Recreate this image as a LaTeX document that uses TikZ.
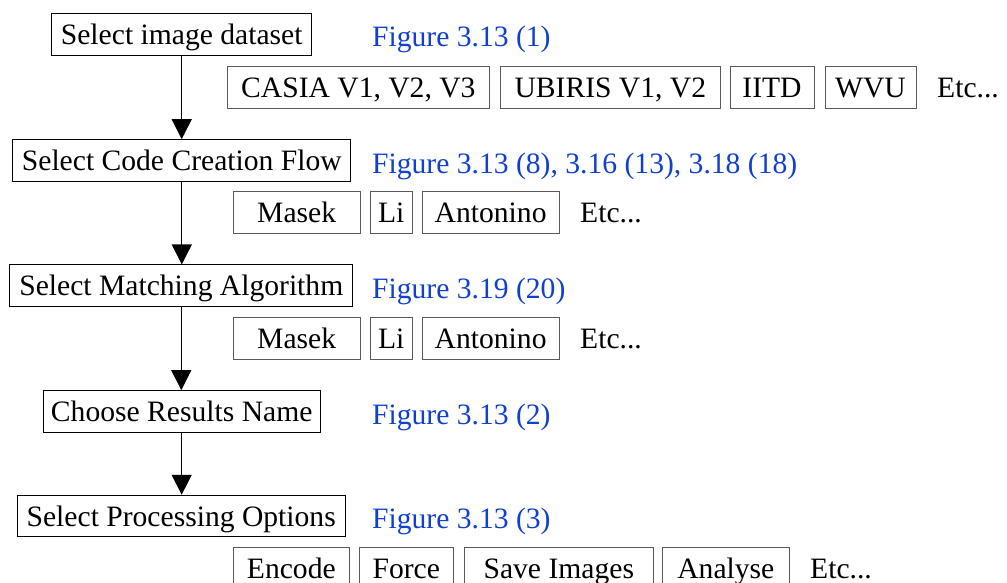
\documentclass[tikz,border=0pt]{standalone}
\usepackage{fontspec}
\setmainfont{Liberation Serif}
\usetikzlibrary{arrows.meta}
\definecolor{figblue}{RGB}{16,64,208}
\begin{document}
\begin{tikzpicture}[x=1pt,y=-1pt,
  every node/.style={font=\fontsize{29.6}{32}\selectfont, inner sep=0pt},
  mainbox/.style={draw=black, line width=1pt, minimum height=41.7pt, text height=24pt, text depth=4pt},
  optbox/.style={draw=black!65, line width=1pt, minimum height=41.7pt, text height=24pt, text depth=4pt},
  figlabel/.style={text=figblue, anchor=base west},
  etclabel/.style={anchor=base west},
  flow/.style={line width=1.2pt, -{Triangle[width=20pt,length=20pt]}}]
\useasboundingbox (0,0) rectangle (1007,583);

% main column
\node[mainbox, minimum width=260pt]   (b1) at (181.7,34.2)  {Select image dataset};
\node[mainbox, minimum width=338.3pt] (b2) at (181.8,160.5) {Select Code Creation Flow};
\node[mainbox, minimum width=342.7pt] (b3) at (181.3,285.8) {Select Matching Algorithm};
\node[mainbox, minimum width=276.7pt] (b4) at (181.7,411.5) {Choose Results Name};
\node[mainbox, minimum width=327.7pt] (b5) at (181.2,516.1) {Select Processing Options};

\draw[flow] (b1.south) -- (b1.south |- b2.north);
\draw[flow] (b2.south) -- (b2.south |- b3.north);
\draw[flow] (b3.south) -- (b3.south |- b4.north);
\draw[flow] (b4.south) -- (b4.south |- b5.north);

% figure references
\node[figlabel] (f1) at (372,47.0)  {Figure 3.13 (1)};
\node[figlabel] (f2) at (372,173.2) {Figure 3.13 (8), 3.16 (13), 3.18 (18)};
\node[figlabel] (f3) at (372,298.4) {Figure 3.19 (20)};
\node[figlabel] (f4) at (372,424.2) {Figure 3.13 (2)};
\node[figlabel] (f5) at (372,528.8) {Figure 3.13 (3)};

% row A: datasets
\node[optbox, minimum width=261.3pt] (casia)  at (358.35,87.5) {CASIA V1, V2, V3};
\node[optbox, minimum width=219.3pt] (ubiris) at (610.35,87.5) {UBIRIS V1, V2};
\node[optbox, minimum width=84pt]    (iitd)   at (772,87.5)    {IITD};
\node[optbox, minimum width=91pt]    (wvu)    at (870.5,87.5)  {WVU};
\node[etclabel] (etcA) at (937,97.5) {Etc...};

% row B: code creation
\node[optbox, minimum width=126.7pt] (masekB) at (296.65,212.5) {Masek};
\node[optbox, minimum width=42.3pt]  (liB)    at (391.15,212.5) {Li};
\node[optbox, minimum width=136.7pt] (antB)   at (490.65,212.5) {Antonino};
\node[etclabel] (etcB) at (580,222.5) {Etc...};

% row C: matching
\node[optbox, minimum width=126.7pt] (masekC) at (296.65,338.2) {Masek};
\node[optbox, minimum width=42.3pt]  (liC)    at (391.15,338.2) {Li};
\node[optbox, minimum width=136.7pt] (antC)   at (490.65,338.2) {Antonino};
\node[etclabel] (etcC) at (580,348.2) {Etc...};

% row D: processing options
\node[optbox, minimum width=116pt]   (encode) at (291.3,568.1)  {Encode};
\node[optbox, minimum width=94pt]    (force)  at (406.3,568.1)  {Force};
\node[optbox, minimum width=189pt]   (save)   at (558.8,568.1)  {Save Images};
\node[optbox, minimum width=126.3pt] (analyse) at (725.85,568.1) {Analyse};
\node[etclabel] (etcD) at (810,578.1) {Etc...};
\end{tikzpicture}
\end{document}
